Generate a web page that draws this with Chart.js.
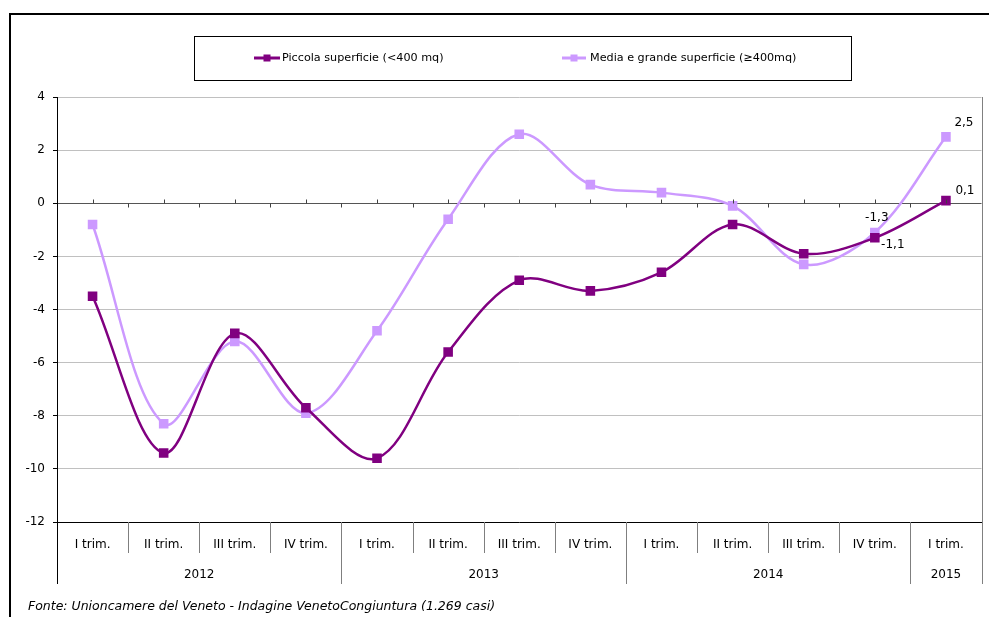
<!DOCTYPE html>
<html>
<head>
<meta charset="utf-8">
<script src="https://cdn.jsdelivr.net/npm/chart.js@4.4.1/dist/chart.umd.min.js"></script>
<style>
  html, body { margin: 0; padding: 0; background: #fff; overflow: hidden; }
  #wrap { width: 989px; height: 617px; position: relative; }
  #c { display: block; }
</style>
</head>
<body>
<div id="wrap"><canvas id="c"></canvas></div>
<script>
// Quarterly series, 2012 – 2015
const quarters = ['I trim.', 'II trim.', 'III trim.', 'IV trim.',
                  'I trim.', 'II trim.', 'III trim.', 'IV trim.',
                  'I trim.', 'II trim.', 'III trim.', 'IV trim.',
                  'I trim.'];
const yearLabels = ['2012', '2013', '2014', '2015'];
const yearSpans = [4, 4, 4, 1];

const piccola = [-3.5, -9.4, -4.9, -7.7, -9.6, -5.6, -2.9, -3.3, -2.6, -0.8, -1.9, -1.3, 0.1];
const mediaGrande = [-0.8, -8.3, -5.2, -7.9, -4.8, -0.6, 2.6, 0.7, 0.4, -0.1, -2.3, -1.1, 2.5];

const seriesNames = ['Piccola superficie (<400 mq)', 'Media e grande superficie (\u2265400mq)'];
const yMin = -12, yMax = 4, yStep = 2;
const sourceNote = 'Fonte: Unioncamere del Veneto - Indagine VenetoCongiuntura (1.269 casi)';

const FONT = '"DejaVu Sans", Verdana, sans-serif';
const fmt = v => v.toFixed(1).replace('.', ',');

// values shown as text next to the last points
const labelled = [
  { ds: 0, i: 11, dx: 2,  dy: -20 },
  { ds: 0, i: 12, dx: 19, dy: -10 },
  { ds: 1, i: 11, dx: 18, dy: 12 },
  { ds: 1, i: 12, dx: 18, dy: -14 }
];

const decorations = {
  id: 'decorations',
  beforeDraw(chart) {
    const ctx = chart.ctx;
    ctx.save();
    ctx.fillStyle = '#fff';
    ctx.fillRect(0, 0, chart.width, chart.height);
    ctx.restore();
  },
  afterDatasetsDraw(chart) {
    const ctx = chart.ctx;
    const x = chart.scales.x, y = chart.scales.y;
    ctx.save();
    ctx.fillStyle = '#000';
    ctx.font = '12px ' + FONT;
    ctx.textAlign = 'center';
    ctx.textBaseline = 'middle';
    labelled.forEach(l => {
      const v = chart.data.datasets[l.ds].data[l.i];
      const px = x.getPixelForValue(l.i) + l.dx;
      const py = y.getPixelForValue(v) + l.dy;
      ctx.fillText(fmt(v), px, py);
    });
    ctx.restore();
  },
  afterDraw(chart) {
    const ctx = chart.ctx;
    const x = chart.scales.x, y = chart.scales.y;
    const area = chart.chartArea;
    const step = x.getPixelForValue(1) - x.getPixelForValue(0);
    const edge = i => Math.round(x.getPixelForValue(i) - step / 2) + 0.5;
    const bottom = area.bottom;
    const rowEnd = bottom + 31;
    const yearEnd = bottom + 62;
    ctx.save();

    // outer frame (top and left)
    ctx.strokeStyle = '#000';
    ctx.lineWidth = 2;
    ctx.beginPath();
    ctx.moveTo(10, chart.height + 2);
    ctx.lineTo(10, 14);
    ctx.lineTo(chart.width + 2, 14);
    ctx.stroke();

    // plot area right border
    ctx.lineWidth = 1;
    ctx.strokeStyle = '#808080';
    ctx.beginPath();
    ctx.moveTo(Math.round(area.right) + 0.5, area.top);
    ctx.lineTo(Math.round(area.right) + 0.5, yearEnd);
    ctx.stroke();

    // small tick marks on the zero line
    const zy = Math.round(y.getPixelForValue(0)) + 0.5;
    ctx.strokeStyle = '#404040';
    ctx.beginPath();
    for (let i = 0; i < quarters.length; i++) {
      const cx = Math.round(x.getPixelForValue(i)) + 0.5;
      ctx.moveTo(cx, zy - 4); ctx.lineTo(cx, zy);
    }
    for (let i = 1; i < quarters.length; i++) {
      ctx.moveTo(edge(i), zy); ctx.lineTo(edge(i), zy + 4);
    }
    ctx.stroke();

    // category separators and year groups
    const yearStart = [0];
    yearSpans.forEach((s, k) => yearStart.push(yearStart[k] + s));
    ctx.strokeStyle = '#7f7f7f';
    ctx.beginPath();
    for (let i = 1; i < quarters.length; i++) {
      const full = yearStart.includes(i);
      ctx.moveTo(edge(i), bottom);
      ctx.lineTo(edge(i), full ? yearEnd : rowEnd);
    }
    ctx.stroke();
    ctx.strokeStyle = '#000';
    ctx.beginPath();
    ctx.moveTo(Math.round(area.left) + 0.5, bottom);
    ctx.lineTo(Math.round(area.left) + 0.5, yearEnd);
    ctx.stroke();

    ctx.fillStyle = '#000';
    ctx.font = '12px ' + FONT;
    ctx.textAlign = 'center';
    ctx.textBaseline = 'middle';
    yearLabels.forEach((lab, k) => {
      const a = x.getPixelForValue(yearStart[k]) - step / 2;
      const b = x.getPixelForValue(yearStart[k + 1] - 1) + step / 2;
      ctx.fillText(lab, (a + b) / 2, bottom + 53);
    });

    // legend box
    ctx.strokeStyle = '#000';
    ctx.lineWidth = 1;
    ctx.strokeRect(194.5, 36.5, 657, 44);
    const items = [
      { lx: 254, lw: 26, tx: 282 },
      { lx: 562, lw: 24, tx: 590 }
    ];
    items.forEach((it, k) => {
      const ds = chart.data.datasets[k];
      const cy = 58;
      ctx.strokeStyle = ds.borderColor;
      ctx.lineWidth = 3;
      ctx.beginPath();
      ctx.moveTo(it.lx, cy); ctx.lineTo(it.lx + it.lw, cy);
      ctx.stroke();
      ctx.fillStyle = ds.borderColor;
      ctx.fillRect(it.lx + it.lw / 2 - 3.5, cy - 3.5, 7, 7);
      ctx.fillStyle = '#000';
      ctx.font = '11.2px ' + FONT;
      ctx.textAlign = 'left';
      ctx.textBaseline = 'middle';
      ctx.fillText(ds.label, it.tx, cy);
    });

    // source note
    ctx.font = 'italic 12.5px ' + FONT;
    ctx.textAlign = 'left';
    ctx.textBaseline = 'middle';
    ctx.fillStyle = '#000';
    ctx.fillText(sourceNote, 28, 607, 470);
    ctx.restore();
  }
};

new Chart(document.getElementById('c'), {
  type: 'line',
  data: {
    labels: quarters,
    datasets: [
      {
        label: seriesNames[0],
        data: piccola,
        borderColor: '#800080',
        backgroundColor: '#800080',
        borderWidth: 2.5,
        pointStyle: 'rect',
        pointRadius: 5,
        pointHoverRadius: 5,
        tension: 0.34,
        fill: false
      },
      {
        label: seriesNames[1],
        data: mediaGrande,
        borderColor: '#CC99FF',
        backgroundColor: '#CC99FF',
        borderWidth: 2.5,
        pointStyle: 'rect',
        pointRadius: 5,
        pointHoverRadius: 5,
        tension: 0.34,
        fill: false
      }
    ]
  },
  options: {
    responsive: true,
    maintainAspectRatio: false,
    animation: false,
    events: [],
    layout: { padding: { top: 97, left: 0, right: 5, bottom: 0 } },
    plugins: {
      legend: { display: false },
      title: { display: false },
      tooltip: { enabled: false }
    },
    scales: {
      x: {
        type: 'category',
        offset: true,
        grid: { display: false, drawTicks: false },
        border: { display: true, color: '#000', width: 1 },
        ticks: {
          color: '#000',
          font: { family: FONT, size: 12 },
          padding: 16,
          maxRotation: 0,
          autoSkip: false
        },
        afterFit(scale) {
          scale.height = 95;
          scale.paddingLeft = 0;
          scale.paddingRight = 0;
        }
      },
      y: {
        min: yMin,
        max: yMax,
        grid: {
          color: c => (c.tick && c.tick.value === 0) ? '#555' : '#c0c0c0',
          lineWidth: 1,
          tickColor: '#000',
          tickLength: 4
        },
        border: { display: true, color: '#000', width: 1 },
        ticks: {
          stepSize: yStep,
          color: '#000',
          font: { family: FONT, size: 12 },
          padding: 8,
          callback: v => String(v)
        },
        afterFit(scale) { scale.width = 57; }
      }
    }
  },
  plugins: [decorations]
});
</script>
</body>
</html>
